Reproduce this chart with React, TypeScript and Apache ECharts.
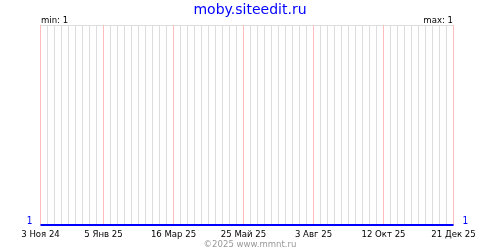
import React, { useEffect, useRef } from "react";
import * as echarts from "echarts";

const titleText = "moby.siteedit.ru";
const copyrightText = "©2025 www.mmnt.ru";
const weekCount = 60;
const tickIndices = [0, 9, 19, 29, 39, 49, 59];
const tickLabels = ["3 Ноя 24", "5 Янв 25", "16 Мар 25", "25 Май 25", "3 Авг 25", "12 Окт 25", "21 Дек 25"];
const values = [
  1, 1, 1, 1, 1, 1, 1, 1, 1, 1,
  1, 1, 1, 1, 1, 1, 1, 1, 1, 1,
  1, 1, 1, 1, 1, 1, 1, 1, 1, 1,
  1, 1, 1, 1, 1, 1, 1, 1, 1, 1,
  1, 1, 1, 1, 1, 1, 1, 1, 1, 1,
  1, 1, 1, 1, 1, 1, 1, 1, 1, 1,
];
const minValue = 1;
const maxValue = 1;

export default function App() {
  const ref = useRef<HTMLDivElement>(null);
  useEffect(() => {
    if (!ref.current) return;
    const chart = echarts.init(ref.current, null, { renderer: "svg" });
    const categories = Array.from({ length: weekCount }, (_, i) => {
      const k = tickIndices.indexOf(i);
      return k >= 0 ? tickLabels[k] : "w" + i;
    });
    const isTick = (i: number) => tickIndices.includes(i);
    const verticals = [
      ...categories.filter((_, i) => !isTick(i)).map((c) => ({ xAxis: c, lineStyle: { color: "#dddddd" } })),
      ...categories.filter((_, i) => isTick(i)).map((c) => ({ xAxis: c, lineStyle: { color: "#ffbcbc" } })),
    ];
    const small = "DejaVu Sans Condensed";
    const smallFont = "9.5px 'DejaVu Sans Condensed'";
    chart.setOption({
      animation: false,
      textStyle: { fontFamily: small },
      title: {
        text: titleText,
        left: "center",
        top: -3,
        textStyle: { color: "#0000ff", fontSize: 14, fontWeight: "normal", fontFamily: "DejaVu Sans" },
      },
      graphic: [
        { type: "text", left: 41, top: 14, style: { text: "min: " + minValue, fill: "#000", font: smallFont } },
        { type: "text", right: 47, top: 14, style: { text: "max: " + maxValue, fill: "#000", font: smallFont } },
        { type: "text", left: "center", top: 238, style: { text: copyrightText, fill: "#999", font: smallFont } },
      ],
      grid: { left: 40.5, top: 25, width: 413, height: 200, containLabel: false },
      xAxis: {
        type: "category",
        data: categories,
        boundaryGap: false,
        axisLine: { show: false },
        axisTick: { show: false },
        axisLabel: {
          interval: (i: number) => isTick(i),
          color: "#000",
          fontSize: 9.5,
          margin: 3,
          fontFamily: small,
        },
        splitLine: { show: false },
      },
      yAxis: [
        {
          type: "value",
          min: 1,
          max: 2,
          interval: 1,
          axisLine: { show: false },
          axisTick: { show: false },
          axisLabel: {
            color: "#0000ff",
            fontSize: 10,
            margin: 8,
            verticalAlign: "bottom",
            lineHeight: 10,
            formatter: (v: number) => (v === 1 ? "1" : ""),
          },
          splitLine: { show: true, lineStyle: { color: "#dddddd", width: 1 } },
        },
        {
          type: "value",
          min: 1,
          max: 2,
          interval: 1,
          position: "right",
          axisLine: { show: false },
          axisTick: { show: false },
          axisLabel: {
            color: "#0000ff",
            fontSize: 10,
            margin: 9,
            verticalAlign: "bottom",
            lineHeight: 10,
            formatter: (v: number) => (v === 1 ? "1" : ""),
          },
          splitLine: { show: false },
        },
      ],
      series: [
        {
          type: "line",
          data: values,
          showSymbol: false,
          lineStyle: { color: "#0000ff", width: 2 },
          z: 5,
          markLine: {
            silent: true,
            symbol: "none",
            label: { show: false },
            emphasis: { disabled: true },
            lineStyle: { type: "solid", width: 1 },
            data: verticals,
          },
        },
      ],
    });
    return () => chart.dispose();
  }, []);
  return <div ref={ref} style={{ position: "fixed", left: 0, top: 0, width: 500, height: 250 }} />;
}
